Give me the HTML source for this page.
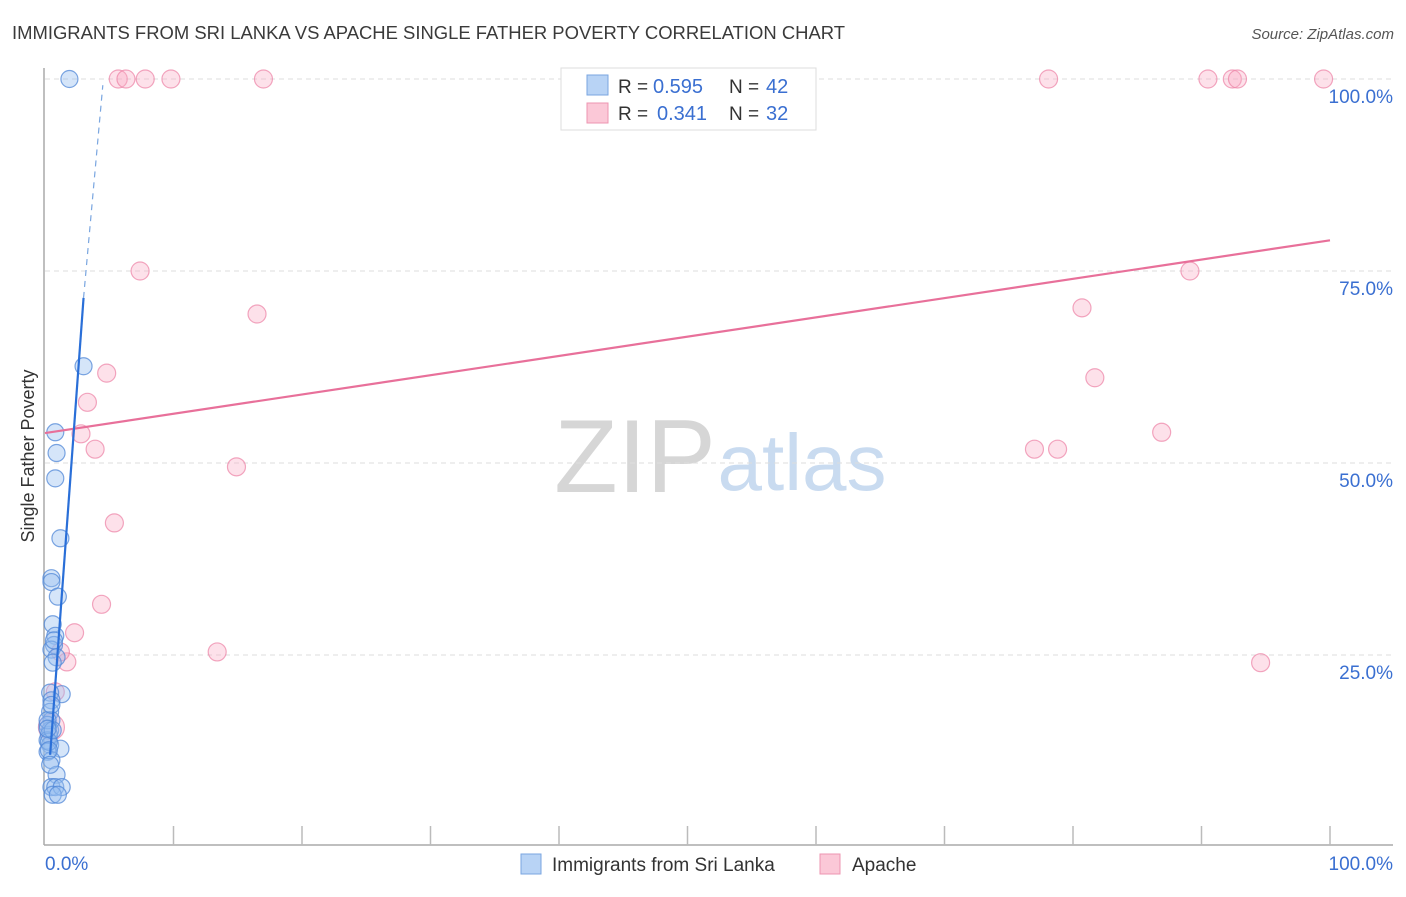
<!DOCTYPE html>
<html><head><meta charset="utf-8"><style>
body{margin:0;background:#fff;font-family:"Liberation Sans",sans-serif;}
svg text{font-family:"Liberation Sans",sans-serif;}
</style></head><body>
<svg id="chart" width="1406" height="892" xmlns="http://www.w3.org/2000/svg">
<text x="12" y="39" font-size="18.3" fill="#3a3a3a" textLength="833" lengthAdjust="spacingAndGlyphs">IMMIGRANTS FROM SRI LANKA VS APACHE SINGLE FATHER POVERTY CORRELATION CHART</text>
<text x="1394" y="39" font-size="15" fill="#555" text-anchor="end" font-style="italic">Source: ZipAtlas.com</text>
<g>
<text x="635" y="492" font-size="104" fill="#d6d6d6" font-family="Liberation Serif,serif" text-anchor="middle">ZIP</text>
<text x="802" y="490" font-size="80" fill="#c9dbf0" text-anchor="middle">atlas</text>
</g>
<g id="grid"></g>
<g id="axes"></g>
<g id="marks"></g>
<text transform="translate(34,456) rotate(-90)" font-size="18" fill="#333" text-anchor="middle">Single Father Poverty</text>
<g>
<rect x="561" y="68" width="255" height="62" fill="#fff" stroke="#ddd"/>
<rect x="587" y="75" width="21" height="20" fill="#b8d3f5" stroke="#7aa6e0"/>
<text x="618" y="93" font-size="19" fill="#333">R =</text>
<text x="653" y="93" font-size="20" fill="#3a6fd1">0.595</text>
<text x="729" y="93" font-size="19" fill="#333">N =</text>
<text x="766" y="93" font-size="20" fill="#3a6fd1">42</text>
<rect x="587" y="103" width="21" height="20" fill="#fbc8d7" stroke="#ee95b0"/>
<text x="618" y="120" font-size="19" fill="#333">R =</text>
<text x="657" y="120" font-size="20" fill="#3a6fd1">0.341</text>
<text x="729" y="120" font-size="19" fill="#333">N =</text>
<text x="766" y="120" font-size="20" fill="#3a6fd1">32</text>
</g>
<g>
<rect x="521" y="854" width="20" height="20" fill="#b8d3f5" stroke="#7aa6e0"/>
<text x="552" y="871" font-size="19" fill="#333">Immigrants from Sri Lanka</text>
<rect x="820" y="854" width="20" height="20" fill="#fbc8d7" stroke="#ee95b0"/>
<text x="852" y="871" font-size="19" fill="#333">Apache</text>
</g>
</svg>
<script>
const blueX=[1.9,3.0,0.8,0.9,0.8,1.2,0.5,0.5,1.0,0.6,0.8,0.7,0.5,0.9,0.6,1.3,0.4,0.5,0.4,0.5,0.2,0.4,0.3,0.2,0.4,1.2,0.2,0.5,0.9,0.5,0.8,1.3,0.6,1.0,0.3,0.2,0.5,0.6,0.3,0.7,0.2,0.4];
const blueY=[100,62.6,54.0,51.3,48.0,40.2,35.0,34.5,32.6,29.0,27.5,26.3,25.7,24.7,24.0,19.9,20.1,19.1,17.6,16.5,15.9,15.2,14.6,13.9,13.3,12.8,12.4,11.3,9.4,7.8,7.8,7.8,6.8,6.8,13.7,16.5,18.5,15.2,12.6,26.9,15.4,10.7];
const pinkX=[5.7,6.3,7.8,9.8,17.0,78.1,90.5,92.4,92.8,99.5,7.4,16.5,80.7,4.8,81.7,3.3,2.8,3.9,86.9,77.0,78.8,14.9,5.4,4.4,2.3,13.4,89.1,94.6,1.7,1.2,0.8,0.5];
const pinkY=[100,100,100,100,100,100,100,100,100,100,75,69.4,70.2,61.7,61.1,57.9,53.8,51.8,54.0,51.8,51.8,49.5,42.2,31.6,27.9,25.4,75,24.0,24.1,25.4,20.2,15.6];
const pinkR=[9,9,9,9,9,9,9,9,9,9,9,9,9,9,9,9,9,9,9,9,9,9,9,9,9,9,9,9,9,9,9,13];
const yTicks=[25,50,75,100];
const yTickLabels=["25.0%","50.0%","75.0%","100.0%"];
const xTicks=[0,10,20,30,40,50,60,70,80,90,100];
const blueTrend={x0:0.4,y0:12,x1:3.0,y1:71.5,x2:4.5,y2:99.2};
const pinkTrend={x0:0,y0:53.9,x1:100,y1:79.0};
const NS="http://www.w3.org/2000/svg";
const X=v=>45+v*12.85, Y=v=>847-v*7.68;
function mk(tag,attrs,parent){const e=document.createElementNS(NS,tag);for(const k in attrs)e.setAttribute(k,attrs[k]);parent.appendChild(e);return e;}
const grid=document.getElementById('grid'),axes=document.getElementById('axes'),marks=document.getElementById('marks');
yTicks.forEach((t,i)=>{
 const l=mk('line',{x1:45,x2:1393,y1:Y(t),y2:Y(t),stroke:'#ddd','stroke-dasharray':'5,4'},grid);
 
 
 const tx=mk('text',{x:1393,y:Y(t)+24,'font-size':19,fill:'#3a6fd1','text-anchor':'end'},axes);
 tx.textContent=yTickLabels[i];
 
 
});
const ya=mk('line',{x1:44,x2:44,y1:68,y2:845,stroke:'#aaa','stroke-width':1.5},axes);


const xa=mk('line',{x1:44,x2:1393,y1:845,y2:845,stroke:'#aaa','stroke-width':1.5},axes);


xTicks.forEach(t=>{if(t===0)return;
 const l=mk('line',{x1:X(t),x2:X(t),y1:826,y2:845,stroke:'#bbb','stroke-width':1.5},axes);
 
 
});
const xl0=mk('text',{x:45,y:870,'font-size':19,fill:'#3a6fd1'},axes);xl0.textContent='0.0%';


const xl1=mk('text',{x:1393,y:870,'font-size':19,fill:'#3a6fd1','text-anchor':'end'},axes);xl1.textContent='100.0%';


pinkX.forEach((v,i)=>{
 const c=mk('circle',{cx:X(v),cy:Y(pinkY[i]),r:pinkR[i],fill:'rgba(248,170,195,0.35)',stroke:'rgba(236,130,165,0.7)','stroke-width':1.2},marks);
 
 
});
blueX.forEach((v,i)=>{
 const c=mk('circle',{cx:X(v),cy:Y(blueY[i]),r:8.5,fill:'rgba(150,190,240,0.4)',stroke:'rgba(80,135,215,0.75)','stroke-width':1.2},marks);
 
 
});
const pl=mk('line',{x1:X(pinkTrend.x0),y1:Y(pinkTrend.y0),x2:X(pinkTrend.x1),y2:Y(pinkTrend.y1),stroke:'#e8709a','stroke-width':2.2},marks);


const bl=mk('line',{x1:X(blueTrend.x0),y1:Y(blueTrend.y0),x2:X(blueTrend.x1),y2:Y(blueTrend.y1),stroke:'#2a6fd8','stroke-width':2.2},marks);


const bd=mk('line',{x1:X(blueTrend.x1),y1:Y(blueTrend.y1),x2:X(blueTrend.x2),y2:Y(blueTrend.y2),stroke:'#7aa6e0','stroke-width':1.2,'stroke-dasharray':'6,5'},marks);


</script>
</body></html>
